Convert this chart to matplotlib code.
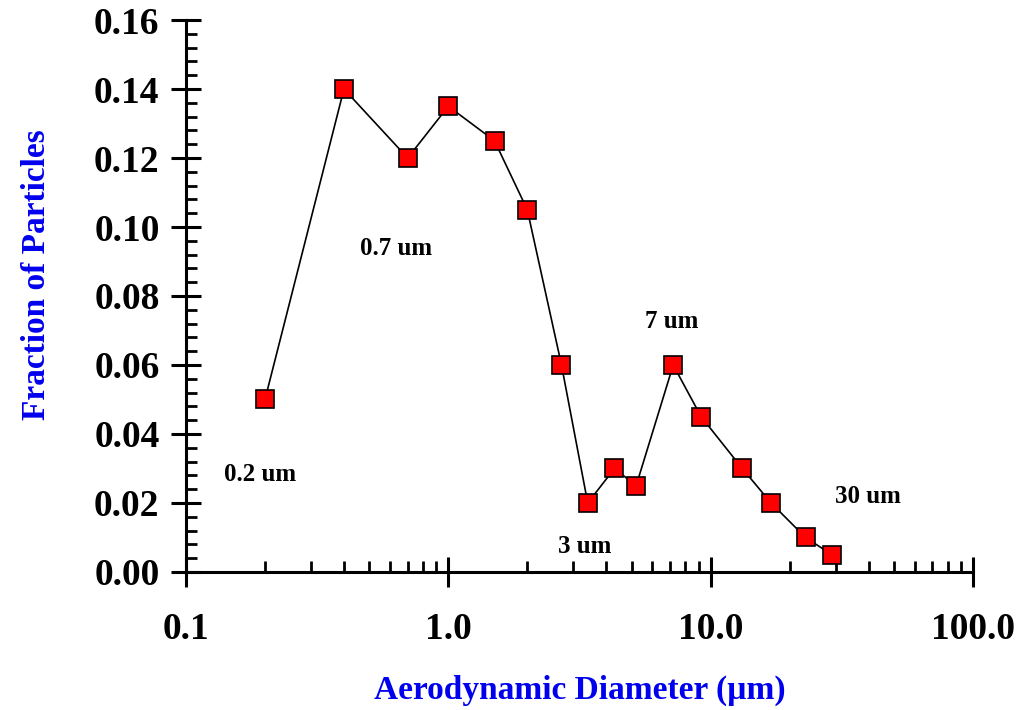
import matplotlib
matplotlib.use("Agg")
import matplotlib.pyplot as plt
from matplotlib.ticker import FixedLocator, NullFormatter, AutoMinorLocator

plt.rcParams['font.family'] = ['Liberation Serif', 'DejaVu Serif']
plt.rcParams['font.weight'] = 'bold'

# data
diameter = [0.2, 0.4, 0.7, 1.0, 1.5, 2.0, 2.7, 3.4, 4.3, 5.2, 7.2, 9.2, 13.2, 17.0, 23.0, 29.0]
fraction = [0.050, 0.140, 0.120, 0.135, 0.125, 0.105, 0.060, 0.020,
            0.030, 0.025, 0.060, 0.045, 0.030, 0.020, 0.010, 0.005]

x_ticks = [0.1, 1.0, 10.0, 100.0]
x_labels = ["0.1", "1.0", "10.0", "100.0"]
y_ticks = [0.00, 0.02, 0.04, 0.06, 0.08, 0.10, 0.12, 0.14, 0.16]

note_text = ["0.2 um", "0.7 um", "3 um", "7 um", "30 um"]
note_x = [0.191, 0.632, 3.32, 7.13, 39.8]
note_y = [0.0284, 0.0939, 0.0075, 0.0725, 0.0220]

fig = plt.figure(figsize=(10.26, 7.10), dpi=100)
ax = fig.add_axes([0.1813, 0.1944, 0.767, 0.7774])

ax.plot(diameter, fraction, color="black", lw=1.2, marker="s", ms=12.5,
        mfc="red", mec="black", mew=1.2, zorder=3)

ax.set_xscale("log")
ax.set_xlim(0.1, 100)
ax.set_ylim(0, 0.16)

ax.xaxis.set_major_locator(FixedLocator(x_ticks))
ax.set_xticklabels(x_labels)
minors = [m * 10.0 ** e for e in range(-1, 2) for m in range(2, 10)]
ax.xaxis.set_minor_locator(FixedLocator(minors))
ax.xaxis.set_minor_formatter(NullFormatter())

ax.yaxis.set_major_locator(FixedLocator(y_ticks))
ax.set_yticklabels(["%.2f" % v for v in y_ticks])
ax.yaxis.set_minor_locator(AutoMinorLocator(5))

for s in ["top", "right"]:
    ax.spines[s].set_visible(False)
for s in ["left", "bottom"]:
    ax.spines[s].set_linewidth(2.2)

ax.tick_params(which="major", direction="inout", length=22, width=2.2,
               labelsize=27)
ax.tick_params(which="minor", direction="in", length=8, width=2.0)
ax.tick_params(axis="x", which="major", pad=18)
ax.tick_params(axis="y", which="major", pad=8)

for lbl in ax.get_xticklabels() + ax.get_yticklabels():
    lbl.set_fontweight("bold")

ax.set_xlabel("Aerodynamic Diameter (µm)", color="#0000ee", fontsize=24,
              fontweight="bold")
ax.set_ylabel("Fraction of Particles", color="#0000ee", fontsize=24,
              fontweight="bold")
ax.xaxis.label.set_va("center")
ax.yaxis.label.set_va("center")
ax.yaxis.label.set_ha("center")
ax.xaxis.set_label_coords(0.5, -0.214)
ax.yaxis.set_label_coords(-0.1906, 0.538)

for t, x, y in zip(note_text, note_x, note_y):
    ax.text(x, y, t, fontsize=18, fontweight="bold", ha="center", va="center")

fig.savefig("out.png", dpi=100)
